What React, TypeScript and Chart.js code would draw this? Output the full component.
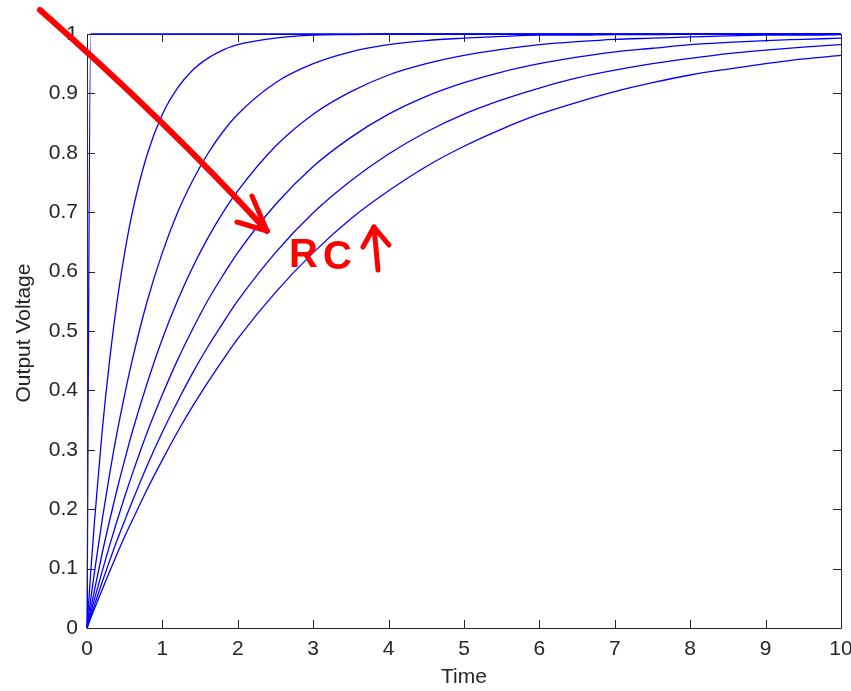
import React, { useEffect, useRef } from 'react';
import { Chart, registerables } from 'chart.js';

Chart.register(...registerables);

// Sample times (x values)
const times = [0, 0.05, 0.1, 0.2, 0.3, 0.4, 0.5, 0.6, 0.8, 1.0, 1.2, 1.4, 1.6, 1.8, 2.0, 2.5, 3, 3.5, 4, 4.5, 5, 5.5, 6, 6.5, 7, 7.5, 8, 8.5, 9, 9.5, 10];

// Output voltage for each RC value
const rcTiny = [0, 1.0, 1.0, 1.0, 1.0, 1.0, 1.0, 1.0, 1.0, 1.0, 1.0, 1.0, 1.0, 1.0, 1.0, 1.0, 1.0, 1.0, 1.0, 1.0, 1.0, 1.0, 1.0, 1.0, 1.0, 1.0, 1.0, 1.0, 1.0, 1.0, 1.0];
const rc05 = [0, 0.095, 0.181, 0.330, 0.451, 0.551, 0.632, 0.699, 0.798, 0.865, 0.909, 0.939, 0.959, 0.973, 0.982, 0.993, 0.998, 0.999, 1.0, 1.0, 1.0, 1.0, 1.0, 1.0, 1.0, 1.0, 1.0, 1.0, 1.0, 1.0, 1.0];
const rc10 = [0, 0.049, 0.095, 0.181, 0.259, 0.330, 0.393, 0.451, 0.551, 0.632, 0.699, 0.753, 0.798, 0.835, 0.865, 0.918, 0.950, 0.970, 0.982, 0.989, 0.993, 0.996, 0.998, 0.998, 0.999, 0.999, 1.0, 1.0, 1.0, 1.0, 1.0];
const rc15 = [0, 0.033, 0.064, 0.125, 0.181, 0.234, 0.283, 0.330, 0.413, 0.487, 0.551, 0.607, 0.656, 0.699, 0.736, 0.811, 0.865, 0.903, 0.931, 0.950, 0.964, 0.974, 0.982, 0.987, 0.991, 0.993, 0.995, 0.997, 0.998, 0.998, 0.999];
const rc20 = [0, 0.025, 0.049, 0.095, 0.139, 0.181, 0.221, 0.259, 0.330, 0.393, 0.451, 0.503, 0.551, 0.593, 0.632, 0.713, 0.777, 0.826, 0.865, 0.895, 0.918, 0.936, 0.950, 0.961, 0.970, 0.976, 0.982, 0.986, 0.989, 0.991, 0.993];
const rc25 = [0, 0.020, 0.039, 0.077, 0.113, 0.148, 0.181, 0.213, 0.274, 0.330, 0.381, 0.429, 0.473, 0.513, 0.551, 0.632, 0.699, 0.753, 0.798, 0.835, 0.865, 0.889, 0.909, 0.926, 0.939, 0.950, 0.959, 0.967, 0.973, 0.978, 0.982];
const rc30 = [0, 0.017, 0.033, 0.064, 0.095, 0.125, 0.154, 0.181, 0.234, 0.283, 0.330, 0.373, 0.413, 0.451, 0.487, 0.565, 0.632, 0.689, 0.736, 0.777, 0.811, 0.840, 0.865, 0.885, 0.903, 0.918, 0.931, 0.941, 0.950, 0.958, 0.964];

const xTickValues = [0, 1, 2, 3, 4, 5, 6, 7, 8, 9, 10];
const xTickLabels = ['0', '1', '2', '3', '4', '5', '6', '7', '8', '9', '10'];
const yTickValues = [0, 0.1, 0.2, 0.3, 0.4, 0.5, 0.6, 0.7, 0.8, 0.9, 1];
const yTickLabels = ['0', '0.1', '0.2', '0.3', '0.4', '0.5', '0.6', '0.7', '0.8', '0.9', '1'];

const xTitle = 'Time';
const yTitle = 'Output Voltage';
const noteText = ['R', 'C'];

const FONT = '"Liberation Sans", Arial, Helvetica, sans-serif';
const TEXT_COLOR = '#262626';
const AXIS_COLOR = '#262626';
const TICK_LEN = 8;

const framePlugin = {
  id: 'matlabFrame',
  beforeDatasetsDraw(chart: any) {
    const { ctx, chartArea } = chart;
    const { left, right, top, bottom } = chartArea;
    ctx.save();
    ctx.strokeStyle = AXIS_COLOR;
    ctx.lineWidth = 1;
    ctx.beginPath();
    ctx.rect(Math.round(left) + 0.5, Math.round(top) + 0.5, Math.round(right - left), Math.round(bottom - top));
    ctx.stroke();
    const xs = chart.scales.x;
    const ys = chart.scales.y;
    ctx.beginPath();
    xTickValues.forEach((v) => {
      const px = Math.round(xs.getPixelForValue(v)) + 0.5;
      ctx.moveTo(px, bottom);
      ctx.lineTo(px, bottom - TICK_LEN);
      ctx.moveTo(px, top);
      ctx.lineTo(px, top + TICK_LEN);
    });
    yTickValues.forEach((v) => {
      const py = Math.round(ys.getPixelForValue(v)) + 0.5;
      ctx.moveTo(left, py);
      ctx.lineTo(left + TICK_LEN, py);
      ctx.moveTo(right, py);
      ctx.lineTo(right - TICK_LEN, py);
    });
    ctx.stroke();
    ctx.restore();
  },
  afterDatasetsDraw(chart: any) {
    const { ctx, chartArea } = chart;
    const { left, top, bottom } = chartArea;
    ctx.save();
    ctx.strokeStyle = AXIS_COLOR;
    ctx.lineWidth = 1;
    ctx.beginPath();
    ctx.moveTo(Math.round(left) + 0.5, top + 2);
    ctx.lineTo(Math.round(left) + 0.5, bottom - 40);
    ctx.stroke();

    // axis titles
    ctx.fillStyle = TEXT_COLOR;
    ctx.font = `21px ${FONT}`;
    ctx.textAlign = 'center';
    ctx.textBaseline = 'middle';
    ctx.fillText(xTitle, (chartArea.left + chartArea.right) / 2, 677);
    ctx.translate(24, (chartArea.top + chartArea.bottom) / 2 + 2);
    ctx.rotate(-Math.PI / 2);
    ctx.fillText(yTitle, 0, 0);
    ctx.restore();
  },
  afterDraw(chart: any) {
    const { ctx } = chart;
    ctx.save();
    ctx.strokeStyle = '#ff0000';
    ctx.fillStyle = '#ff0000';
    ctx.lineCap = 'round';
    ctx.lineJoin = 'round';
    // big arrow
    ctx.lineWidth = 6;
    ctx.beginPath();
    ctx.moveTo(40, 10);
    ctx.quadraticCurveTo(166, 121, 267, 231);
    ctx.stroke();
    ctx.lineWidth = 5;
    ctx.beginPath();
    ctx.moveTo(252, 196);
    ctx.lineTo(267, 231);
    ctx.lineTo(237, 222);
    ctx.stroke();
    // "RC"
    ctx.font = `bold 40px ${FONT}`;
    ctx.textAlign = 'left';
    ctx.textBaseline = 'alphabetic';
    ctx.fillText(noteText[0], 289, 267);
    ctx.fillText(noteText[1], 323, 269);
    // up arrow
    ctx.lineWidth = 5;
    ctx.beginPath();
    ctx.moveTo(378, 270);
    ctx.lineTo(374, 227);
    ctx.stroke();
    ctx.beginPath();
    ctx.moveTo(363, 247);
    ctx.lineTo(374, 227);
    ctx.lineTo(389, 245);
    ctx.stroke();
    ctx.restore();
  },
};

export default function App() {
  const ref = useRef<HTMLCanvasElement>(null);
  useEffect(() => {
    const series = [rcTiny, rc05, rc10, rc15, rc20, rc25, rc30];
    const chart = new Chart(ref.current as HTMLCanvasElement, {
      type: 'line',
      data: {
        datasets: series.map((s) => ({
          data: times.map((t, i) => ({ x: t, y: s[i] })),
          borderColor: '#0000ff',
          borderWidth: 1.3,
          pointRadius: 0,
          fill: false,
          cubicInterpolationMode: 'monotone' as const,
          clip: false as any,
        })),
      },
      options: {
        animation: false,
        responsive: false,
        maintainAspectRatio: false,
        layout: { padding: { top: 34, right: 10, left: 0, bottom: 0 } },
        plugins: { legend: { display: false }, tooltip: { enabled: false }, title: { display: false } },
        scales: {
          x: {
            type: 'linear',
            min: 0,
            max: 10,
            grid: { display: false, drawTicks: false },
            border: { display: false },
            afterBuildTicks: (s: any) => {
              s.ticks = xTickValues.map((v) => ({ value: v }));
            },
            afterFit: (s: any) => {
              s.height = 63;
              s.paddingLeft = 0;
              s.paddingRight = 0;
            },
            ticks: {
              autoSkip: false,
              maxRotation: 0,
              padding: 9,
              color: TEXT_COLOR,
              font: { family: FONT, size: 21 },
              callback: (_v: any, i: number) => xTickLabels[i],
            },
          },
          y: {
            type: 'linear',
            min: 0,
            max: 1,
            grid: { display: false, drawTicks: false },
            border: { display: false },
            afterBuildTicks: (s: any) => {
              s.ticks = yTickValues.map((v) => ({ value: v }));
            },
            afterFit: (s: any) => {
              s.width = 87;
              s.paddingTop = 0;
              s.paddingBottom = 0;
            },
            ticks: {
              autoSkip: false,
              padding: 9,
              color: TEXT_COLOR,
              font: { family: FONT, size: 21 },
              callback: (_v: any, i: number) => yTickLabels[i],
            },
          },
        },
      },
      plugins: [framePlugin],
    });
    return () => chart.destroy();
  }, []);
  return (
    <div style={{ position: 'fixed', left: 0, top: 0, width: 851, height: 691, background: '#fff' }}>
      <canvas ref={ref} width={851} height={691} style={{ display: 'block' }} />
    </div>
  );
}
